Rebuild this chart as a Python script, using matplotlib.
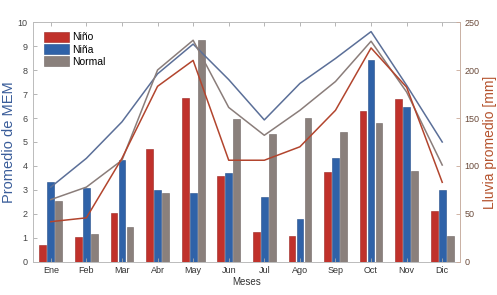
import matplotlib

matplotlib.use("Agg")
import matplotlib.pyplot as plt
import numpy as np

plt.rcParams["font.family"] = ["Liberation Sans", "DejaVu Sans"]

months = ["Ene", "Feb", "Mar", "Abr", "May", "Jun", "Jul", "Ago", "Sep", "Oct", "Nov", "Dic"]

# MEM average per month (left axis, bars)
mem_nino = [0.72, 1.03, 2.05, 4.70, 6.85, 3.58, 1.24, 1.08, 3.76, 6.30, 6.80, 2.14]
mem_nina = [3.32, 3.08, 4.25, 3.00, 2.86, 3.70, 2.72, 1.79, 4.32, 8.42, 6.47, 3.00]
mem_normal = [2.55, 1.15, 1.45, 2.89, 9.27, 5.95, 5.32, 6.01, 5.40, 5.80, 3.80, 1.10]

# average rainfall per month (right axis, lines)
rain_nino = [42, 46, 108, 183, 210, 106, 106, 120, 158, 223, 182, 83]
rain_nina = [78, 108, 146, 196, 227, 190, 148, 186, 212, 240, 184, 125]
rain_normal = [65, 78, 106, 200, 231, 161, 132, 158, 188, 230, 177, 101]

c_nino = "#c0312b"
c_nina = "#2f62a8"
c_normal = "#8a807c"

fig = plt.figure(figsize=(4.97, 2.95), dpi=100)
ax = fig.add_axes([0.0664, 0.1119, 0.8592, 0.8135])
ax2 = ax.twinx()

x = np.arange(1, 13)
w = 0.19
off = 0.225
ax.bar(x - off, mem_nino, w, color=c_nino, edgecolor="#9a2420", linewidth=0.4, label="Niño")
ax.bar(x, mem_nina, w, color=c_nina, edgecolor="#244d88", linewidth=0.4, label="Niña")
ax.bar(x + off, mem_normal, w, color=c_normal, edgecolor="#6e6562", linewidth=0.4, label="Normal")

ax2.plot(x, rain_nina, color="#5b6f98", lw=1.1)
ax2.plot(x, rain_normal, color="#8a7d7a", lw=1.1)
ax2.plot(x, rain_nino, color="#b2452e", lw=1.1)

ax.set_xlim(0.5, 12.5)
ax.set_ylim(0, 10)
ax2.set_ylim(0, 250)
ax.set_xticks(x)
ax.set_xticklabels(months)
ax.set_yticks(range(0, 11))
ax2.set_yticks(range(0, 251, 50))

tick_col = "#444444"
ax.tick_params(axis="x", direction="in", length=3, width=0.6, color="#aaaaaa",
               labelsize=6.5, labelcolor="#333333", pad=3, top=True)
ax.tick_params(axis="y", direction="in", length=3, width=0.6, color="#aaaaaa",
               labelsize=6.5, labelcolor=tick_col, pad=4)
ax2.tick_params(axis="y", direction="in", length=3, width=0.6, color="#c9a897",
                labelsize=6.5, labelcolor="#6a4a3a", pad=3)

for s in ["top", "bottom", "left"]:
    ax.spines[s].set_color("#bbbbbb")
    ax.spines[s].set_linewidth(0.7)
for s in ["top", "bottom", "left"]:
    ax2.spines[s].set_visible(False)
ax.spines["right"].set_visible(False)
ax2.spines["right"].set_color("#c9b0a3")
ax2.spines["right"].set_linewidth(0.7)

ax.set_xlabel("Meses", fontsize=7, color="#333333", labelpad=1)
ax.set_ylabel("Promedio de MEM", fontsize=10.5, color="#3a5d9a", labelpad=1)
ax2.set_ylabel("Lluvia promedio [mm]", fontsize=10, color="#b5532e", labelpad=3)

leg = ax.legend(loc="upper left", bbox_to_anchor=(0.01, 0.985), frameon=False,
                fontsize=7.5, handlelength=2.4, handleheight=1.1, handletextpad=0.3,
                labelspacing=0.15, borderaxespad=0.2)

fig.savefig("out.png", dpi=100)
